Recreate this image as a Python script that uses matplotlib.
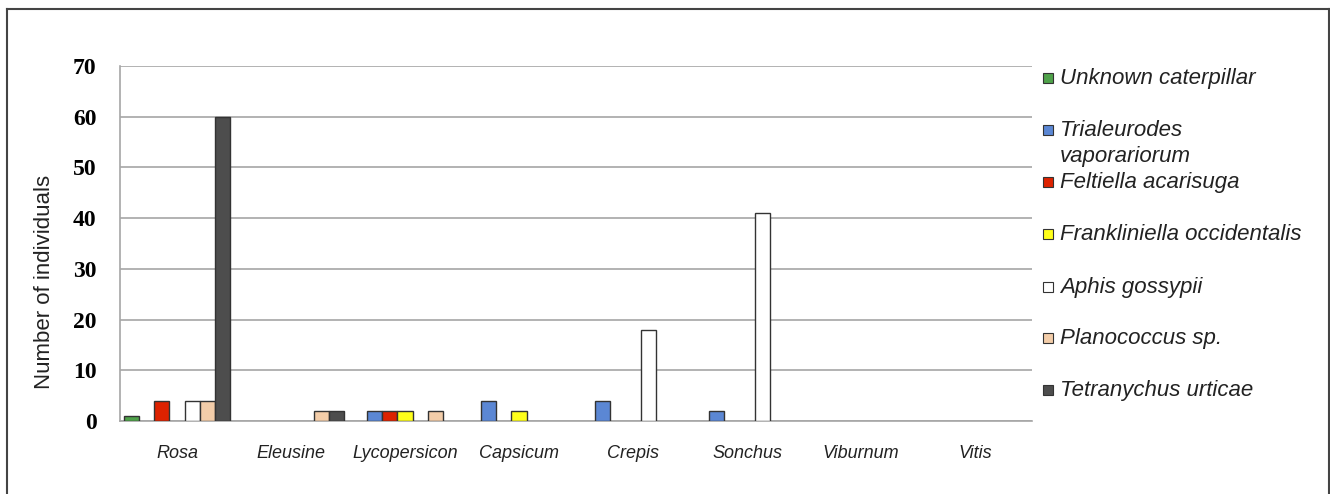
import numpy as np
import matplotlib
matplotlib.use("Agg")
import matplotlib.pyplot as plt
from matplotlib.patches import Rectangle
from matplotlib.lines import Line2D

plants = ["Rosa", "Eleusine", "Lycopersicon", "Capsicum", "Crepis", "Sonchus", "Viburnum", "Vitis"]

species = ["Unknown caterpillar", "Trialeurodes\nvaporariorum", "Feltiella acarisuga",
           "Frankliniella occidentalis", "Aphis gossypii", "Planococcus sp.", "Tetranychus urticae"]
colors = ["#4fa24a", "#5b87d4", "#dd2200", "#ffff1a", "#ffffff", "#f3cda9", "#4d4d4d"]

# counts per plant (same order as plants)
unknown_caterpillar = [1, 0, 0, 0, 0, 0, 0, 0]
trialeurodes = [0, 0, 2, 4, 4, 2, 0, 0]
feltiella = [4, 0, 2, 0, 0, 0, 0, 0]
frankliniella = [0, 0, 2, 2, 0, 0, 0, 0]
aphis = [4, 0, 0, 0, 18, 41, 0, 0]
planococcus = [4, 2, 2, 0, 0, 0, 0, 0]
tetranychus = [60, 2, 0, 0, 0, 0, 0, 0]

series = [unknown_caterpillar, trialeurodes, feltiella, frankliniella, aphis, planococcus, tetranychus]

W, H = 1330, 494
fig = plt.figure(figsize=(W / 100, H / 100), dpi=100)
ax = fig.add_axes([120 / W, 1 - 421 / H, (1032 - 120) / W, (421 - 66) / H])

x = np.arange(len(plants))
w = 0.133
for j, vals in enumerate(series):
    v = np.array(vals, dtype=float)
    v[v == 0] = np.nan  # zeros are not drawn
    ax.bar(x + (j - 3) * w, v, width=w, color=colors[j], edgecolor="#333333", linewidth=1.0, zorder=3)

ax.set_xlim(-0.5, len(plants) - 0.5)
ax.set_ylim(0, 70)
ax.set_yticks(range(0, 71, 10))
ax.yaxis.grid(True, color="#a6a6a6", linewidth=1.2, zorder=0)
ax.set_xticks(x)
ax.set_xticklabels(plants, fontstyle="italic", family="Liberation Sans", fontsize=13, color="#222222")
for lab in ax.get_yticklabels():
    lab.set_fontfamily("Liberation Serif")
    lab.set_fontweight("bold")
    lab.set_fontsize(17)
ax.tick_params(axis="x", length=0, pad=17)
ax.tick_params(axis="y", length=0, pad=17)
for s in ["top", "right"]:
    ax.spines[s].set_visible(False)
for s in ["left", "bottom"]:
    ax.spines[s].set_color("#a6a6a6")
    ax.spines[s].set_linewidth(1.2)
ax.set_ylabel("Number of individuals", family="Liberation Sans", fontsize=16, color="#222222")
ax.yaxis.set_label_coords(-65 / 912, (421 - 282) / 355)

# legend drawn by hand so the two-line entry keeps even spacing
leg_y = [78, 130, 182, 234, 287, 338, 390]
fig.patches.append(Rectangle((1034 / W, 0.12), 290 / W, 0.78, transform=fig.transFigure,
                             facecolor="white", edgecolor="none", zorder=5))
for j, name in enumerate(species):
    yc = 1 - leg_y[j] / H
    fig.patches.append(Rectangle((1043 / W, yc - 5 / H), 10 / W, 10 / H, transform=fig.transFigure,
                                 facecolor=colors[j], edgecolor="#333333", linewidth=0.8, zorder=6))
    fig.text(1060 / W, yc + 10 / H, name, ha="left", va="top", fontsize=16, fontstyle="italic",
             family="Liberation Sans", color="#222222", linespacing=1.3, zorder=6)

# outer frame
for xs, ys in [([7, 1329], [9.5, 9.5]), ([7, 7], [9.5, 494]), ([1329, 1329], [9.5, 494])]:
    fig.lines.append(Line2D([a / W for a in xs], [1 - b / H for b in ys], transform=fig.transFigure,
                            color="#444444", linewidth=1.5))

fig.savefig("out.png", dpi=100)
